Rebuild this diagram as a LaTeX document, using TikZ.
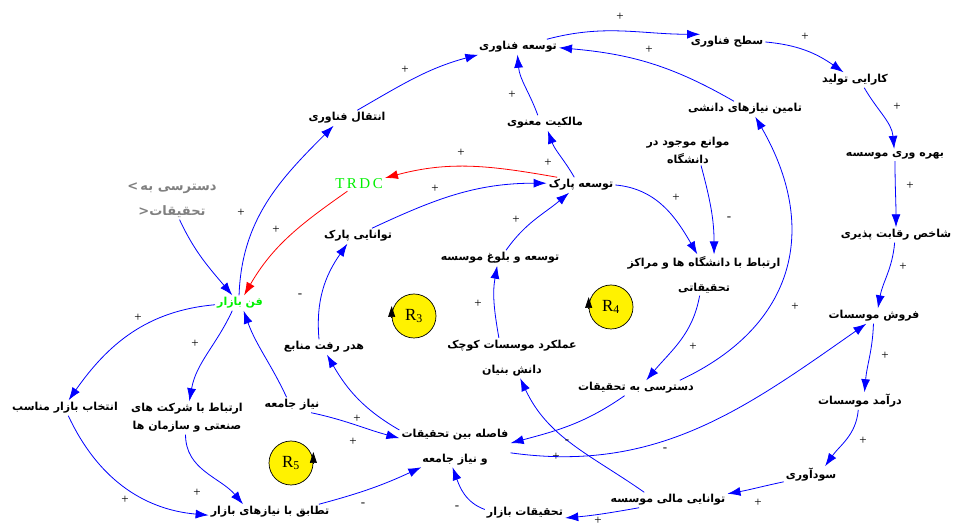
\documentclass[tikz,border=0pt]{standalone}
\usepackage{fontspec}
\newfontfamily\fa[Script=Arabic]{DejaVu Sans}
\newfontfamily\tnr{Liberation Serif}
\TeXXeTstate=1
\newcommand{\rtl}[1]{\beginR#1\endR}
\usetikzlibrary{arrows.meta}
\definecolor{vblue}{RGB}{0,0,255}
\definecolor{vred}{RGB}{255,0,0}
\definecolor{vgreen}{RGB}{0,240,0}
\definecolor{vgray}{RGB}{128,128,128}
\tikzset{
  var/.style={font=\fa\bfseries\fontsize{11}{18}\selectfont, inner sep=2pt, align=center},
  shadowvar/.style={var, text=vgray, font=\fa\bfseries\fontsize{13}{20}\selectfont},
  link/.style={draw=vblue, line width=0.8pt, -{Latex[length=13pt,width=9pt]}},
  redlink/.style={link, draw=vred},
  sign/.style={font=\tnr\fontsize{13}{13}\selectfont, inner sep=0pt},
  loopsym/.style={circle, draw=black, fill=yellow, minimum size=44pt, inner sep=0pt, line width=0.7pt,
    font=\tnr\fontsize{17}{17}\selectfont},
  looparrow/.style={line width=0.7pt, -{Triangle[length=11pt,width=7pt]}},
}
\begin{document}
\begin{tikzpicture}[x=1pt, y=1pt]
\useasboundingbox (0,0) rectangle (955,527);
% variables
\node[var] (techdev) at (518,480) {\rtl{توسعه فناوری}};
\node[var] (techlevel) at (727,485) {\rtl{سطح فناوری}};
\node[var] (prodeff) at (855,447) {\rtl{کارایی تولید}};
\node[var] (productivity) at (895,372) {\rtl{بهره وری موسسه}};
\node[var] (compet) at (896,292) {\rtl{شاخص رقابت پذیری}};
\node[var] (sales) at (874,211) {\rtl{فروش موسسات}};
\node[var] (revenue) at (860,126) {\rtl{درآمد موسسات}};
\node[var] (profit) at (811,52) {\rtl{سودآوری}};
\node[var] (financial) at (668,27) {\rtl{توانایی مالی موسسه}};
\node[var] (marketres) at (525,14) {\rtl{تحقیقات بازار}};
\node[var] (gap) at (455,80) {\rtl{فاصله بین تحقیقات}\\[7pt]\rtl{و نیاز جامعه}};
\node[var] (match) at (270,15) {\rtl{تطابق با نیازهای بازار}};
\node[var] (mselect) at (65,119) {\rtl{انتخاب بازار مناسب}};
\node[var] (indlink) at (187,109) {\rtl{ارتباط با شرکت های}\\\rtl{صنعتی و سازمان ها}};
\node[var] (need) at (292,122) {\rtl{نیاز جامعه}};
\node[var, text=vgreen] (fanbazar) at (240,224) {\rtl{فن بازار}};
\node[shadowvar] (shadow) at (172,327) {>\,\rtl{دسترسی به}\\[5pt]<\rtl{تحقیقات}};
\node[font=\tnr\fontsize{15}{15}\selectfont, text=vgreen, inner sep=2pt] (trdc) at (359,343) {T\,R\,D\,C};
\node[var] (parkab) at (358,291) {\rtl{توانایی پارک}};
\node[var] (waste) at (324,180) {\rtl{هدر رفت منابع}};
\node[var] (parkdev) at (581,342) {\rtl{توسعه پارک}};
\node[var] (ip) at (545,404) {\rtl{مالکیت معنوی}};
\node[var] (techtr) at (347,409) {\rtl{انتقال فناوری}};
\node[var] (knowneeds) at (745,418) {\rtl{تامین نیازهای دانشی}};
\node[var] (barriers) at (688,377) {\rtl{موانع موجود در}\\\rtl{دانشگاه}};
\node[var] (maturity) at (500,269) {\rtl{توسعه و بلوغ موسسه}};
\node[var] (smallperf) at (512,169) {\rtl{عملکرد موسسات کوچک}\\[7pt]\rtl{دانش بنیان}};
\node[var] (unilink) at (704,252) {\rtl{ارتباط با دانشگاه ها و مراکز}\\[7pt]\rtl{تحقیقاتی}};
\node[var] (resacc) at (636,139) {\rtl{دسترسی به تحقیقات}};
% loops
\node[loopsym] (r3) at (414,211) {R\textsubscript{3}};
\node[loopsym] (r4) at (611,220) {R\textsubscript{4}};
\node[loopsym] (r5) at (291,64) {R\textsubscript{5}};
\draw[looparrow] (r3.west) ++(0,-2) -- ++(0,12);
\draw[looparrow] (r4.west) ++(0,-2) -- ++(0,12);
\draw[looparrow] (r5.east) ++(0,-1) -- ++(0,12);
% links
\draw[link] (fanbazar.97) to[out=88,in=225] (techtr.210) node[sign] at (241,314) {+};
\draw[link] (techtr.37) to[out=30,in=195] (techdev.191) node[sign] at (405,457) {+};
\draw[link] (techdev.15) to[out=15,in=180] (techlevel.164) node[sign] at (620,510) {+};
\draw[link] (techlevel.0) to[out=-5,in=145] (prodeff.146) node[sign] at (805,490) {+};
\draw[link] (prodeff.-40) to[out=-60,in=95] (productivity.98) node[sign] at (897,420) {+};
\draw[link] (productivity.-90) to[out=-90,in=90] (compet.90) node[sign] at (910,341) {+};
\draw[link] (compet.-100) to[out=-95,in=80] (sales.63) node[sign] at (903,260) {+};
\draw[link] (sales.-94) to[out=-92,in=85] (revenue.63) node[sign] at (885,171) {+};
\draw[link] (revenue.-101) to[out=-95,in=55] (profit.32) node[sign] at (863,86) {+};
\draw[link] (profit.194) to[out=192,in=10] (financial.6) node[sign] at (758,24) {+};
\draw[link] (financial.195) to[out=190,in=5] (marketres.-7) node[sign] at (598,6) {+};
\draw[link] (marketres.175) to[out=160,in=-70] (gap.-97) node[sign] at (457,19) {-};
\draw[link] (financial.162) to[out=145,in=-65] (smallperf.-68) node[sign] at (556,70) {+};
\draw[link] (resacc.214) to[out=215,in=15] (gap.4) node[sign] at (567,85) {-};
\draw[link] (gap.-6) to[out=-8,in=215] (sales.225) node[sign] at (665,77) {-};
\draw[link] (resacc.10) to[out=25,in=-60,looseness=1.2] (knowneeds.-37) node[sign] at (795,220) {+};
\draw[link] (knowneeds.145) to[out=150,in=-5] (techdev.-1) node[sign] at (649,477) {+};
\draw[link] (ip.133) to[out=110,in=-85] (techdev.-94) node[sign] at (512,432) {+};
\draw[link] (parkdev.131) to[out=120,in=-70] (ip.-70) node[sign] at (548,364) {+};
\draw[redlink] (parkdev.162) to[out=170,in=15] (trdc.13) node[sign] at (461,374) {+};
\draw[link] (parkab.29) to[out=25,in=180] (parkdev.177) node[sign] at (435,338) {+};
\draw[redlink] (trdc.212) to[out=215,in=60] (fanbazar.62) node[sign] at (276,297) {+};
\draw[link] (shadow.-69) to[out=-65,in=130] (fanbazar.135);
\draw[link] (waste.123) to[out=95,in=235] (parkab.216) node[sign] at (300,231) {-};
\draw[link] (gap.163) to[out=150,in=-60] (waste.-69) node[sign] at (353,85) {+};
\draw[link] (need.-22) to[out=-12,in=165] (gap.171) node[sign] at (357,108) {+};
\draw[link] (match.9) to[out=15,in=205] (gap.211) node[sign] at (363,22) {-};
\draw[link] (fanbazar.184) to[out=185,in=55] (mselect.65) node[sign] at (138,209) {+};
\draw[link] (fanbazar.225) to[out=-115,in=80] (indlink.82) node[sign] at (195,183) {+};
\draw[link] (need.125) to[out=115,in=-70] (fanbazar.-65);
\draw[link] (indlink.-95) to[out=-90,in=130] (match.164) node[sign] at (197,34) {+};
\draw[link] (mselect.-67) to[out=-65,in=175] (match.183) node[sign] at (125,27) {+};
\draw[link] (smallperf.123) to[out=100,in=-100] (maturity.-110) node[sign] at (478,223) {+};
\draw[link] (maturity.52) to[out=55,in=220] (parkdev.213) node[sign] at (516,307) {+};
\draw[link] (parkdev.0) to[out=-5,in=120] (unilink.108) node[sign] at (676,329) {+};
\draw[link] (barriers.-50) to[out=-75,in=90] (unilink.64) node[sign] at (729,308) {-};
\draw[link] (unilink.-102) to[out=-100,in=50] (resacc.37) node[sign] at (693,180) {+};
\end{tikzpicture}
\end{document}
